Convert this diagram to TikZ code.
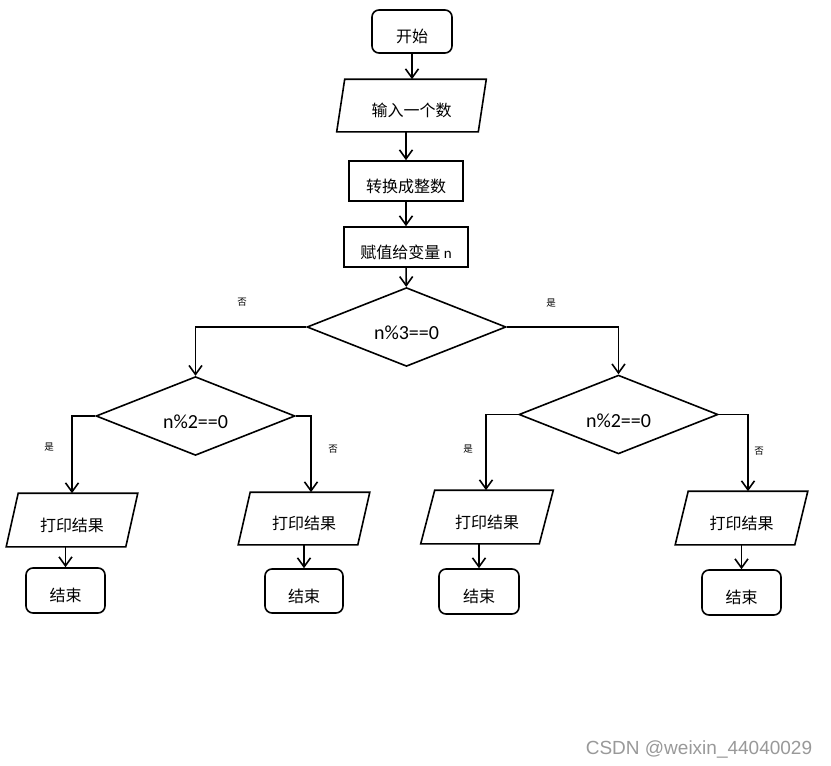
\documentclass[tikz,border=0pt]{standalone}
\usepackage{fontspec}
\setmainfont{Noto Sans CJK SC}
\newfontfamily\latinf{Carlito}
\newfontfamily\wmf{Liberation Sans}
\usetikzlibrary{shapes.geometric,arrows.meta}
\newcommand\dlow[1]{\raisebox{-6pt}[\height][\depth]{#1}}
\begin{document}
\begin{tikzpicture}[x=1pt,y=-1pt,
  line width=1.6pt,
  arr/.style={-{Straight Barb[length=9pt,width=13pt,line width=1.6pt]}},
  cjk/.style={inner sep=0pt,font=\fontsize{16}{16}\selectfont,text height=23pt,text depth=1pt},
  term/.style={draw,rounded corners=7pt,cjk},
  proc/.style={draw,cjk},
  io/.style={cjk},
  dec/.style={draw,diamond,inner sep=0pt,minimum width=199pt,minimum height=78pt,
    font=\latinf\fontsize{20}{20}\selectfont},
  lab/.style={inner sep=0pt,font=\fontsize{9.5}{9.5}\selectfont}]
\useasboundingbox (0,0) rectangle (831,766);
\fill[white] (0,0) rectangle (831,766);

\node[term,minimum width=80pt,minimum height=43pt] (start) at (412,31.5) {开始};
\node[io,minimum width=140pt,minimum height=51pt] (in) at (411.5,105.5) {输入一个数};
\node[proc,minimum width=114pt,minimum height=40pt] (conv) at (406,181) {转换成整数};
\node[proc,minimum width=124pt,minimum height=40pt] (assign) at (406,247) {赋值给变量 {\latinf\fontsize{15}{15}\selectfont n}};

\node[dec] (d0) at (406.5,327) {\dlow{n\%3==0}};
\node[dec] (dl) at (195.5,416) {\dlow{n\%2==0}};
\node[dec,minimum height=77pt] (dr) at (618.5,414.5) {\dlow{n\%2==0}};

\node[io,minimum width=118pt,minimum height=52pt] (p1) at (72,520) {打印结果};
\node[io,minimum width=118pt,minimum height=51pt] (p2) at (304,518.5) {打印结果};
\node[io,minimum width=117pt,minimum height=52pt] (p3) at (487,517) {打印结果};
\node[io,minimum width=118pt,minimum height=52pt] (p4) at (741.5,518) {打印结果};

\foreach \n/\s in {in/4,p1/6,p2/6,p3/7,p4/6.5}
  \draw ([xshift=\s pt]\n.north west) -- ([xshift=\s pt]\n.north east)
     -- ([xshift=-\s pt]\n.south east) -- ([xshift=-\s pt]\n.south west) -- cycle;

\node[term,minimum width=79pt,minimum height=45pt] (e1) at (65.5,590.5) {结束};
\node[term,minimum width=78pt,minimum height=44pt] (e2) at (304,591) {结束};
\node[term,minimum width=80pt,minimum height=45pt] (e3) at (479,591.5) {结束};
\node[term,minimum width=79pt,minimum height=45pt] (e4) at (741.5,592.5) {结束};

\draw[arr] (start.south) -- (start.south |- in.north);
\draw[arr] (conv.north |- in.south) -- (conv.north);
\draw[arr] (conv) -- (assign);
\draw[arr] (assign) -- (d0);
\draw[arr] (d0.west) -| (dl.north);
\draw[arr] (d0.east) -| (dr.north);
\draw[arr] (dl.west) -| (p1.north);
\draw[arr] (dl.east) -| ([xshift=7pt]p2.north);
\draw[arr] (dr.west) -| ([xshift=-1pt]p3.north);
\draw[arr] (dr.east) -| ([xshift=6.5pt]p4.north);
\foreach \p/\e in {p1/e1,p2/e2,p3/e3,p4/e4}
  \draw[arr] (\e.north |- \p.south) -- (\e.north);

\node[lab] (l1) at (242,302) {否};
\node[lab] (l2) at (551,303) {是};
\node[lab] (l3) at (49,447) {是};
\node[lab] (l4) at (333,449) {否};
\node[lab] (l5) at (468,449) {是};
\node[lab] (l6) at (759,451) {否};

\node[inner sep=0pt,text=black!40,font=\wmf\fontsize{19}{19}\selectfont,text height=13.6pt,text depth=0pt] (wm) at (699,747.5) {CSDN @weixin\_44040029};
\end{tikzpicture}
\end{document}
